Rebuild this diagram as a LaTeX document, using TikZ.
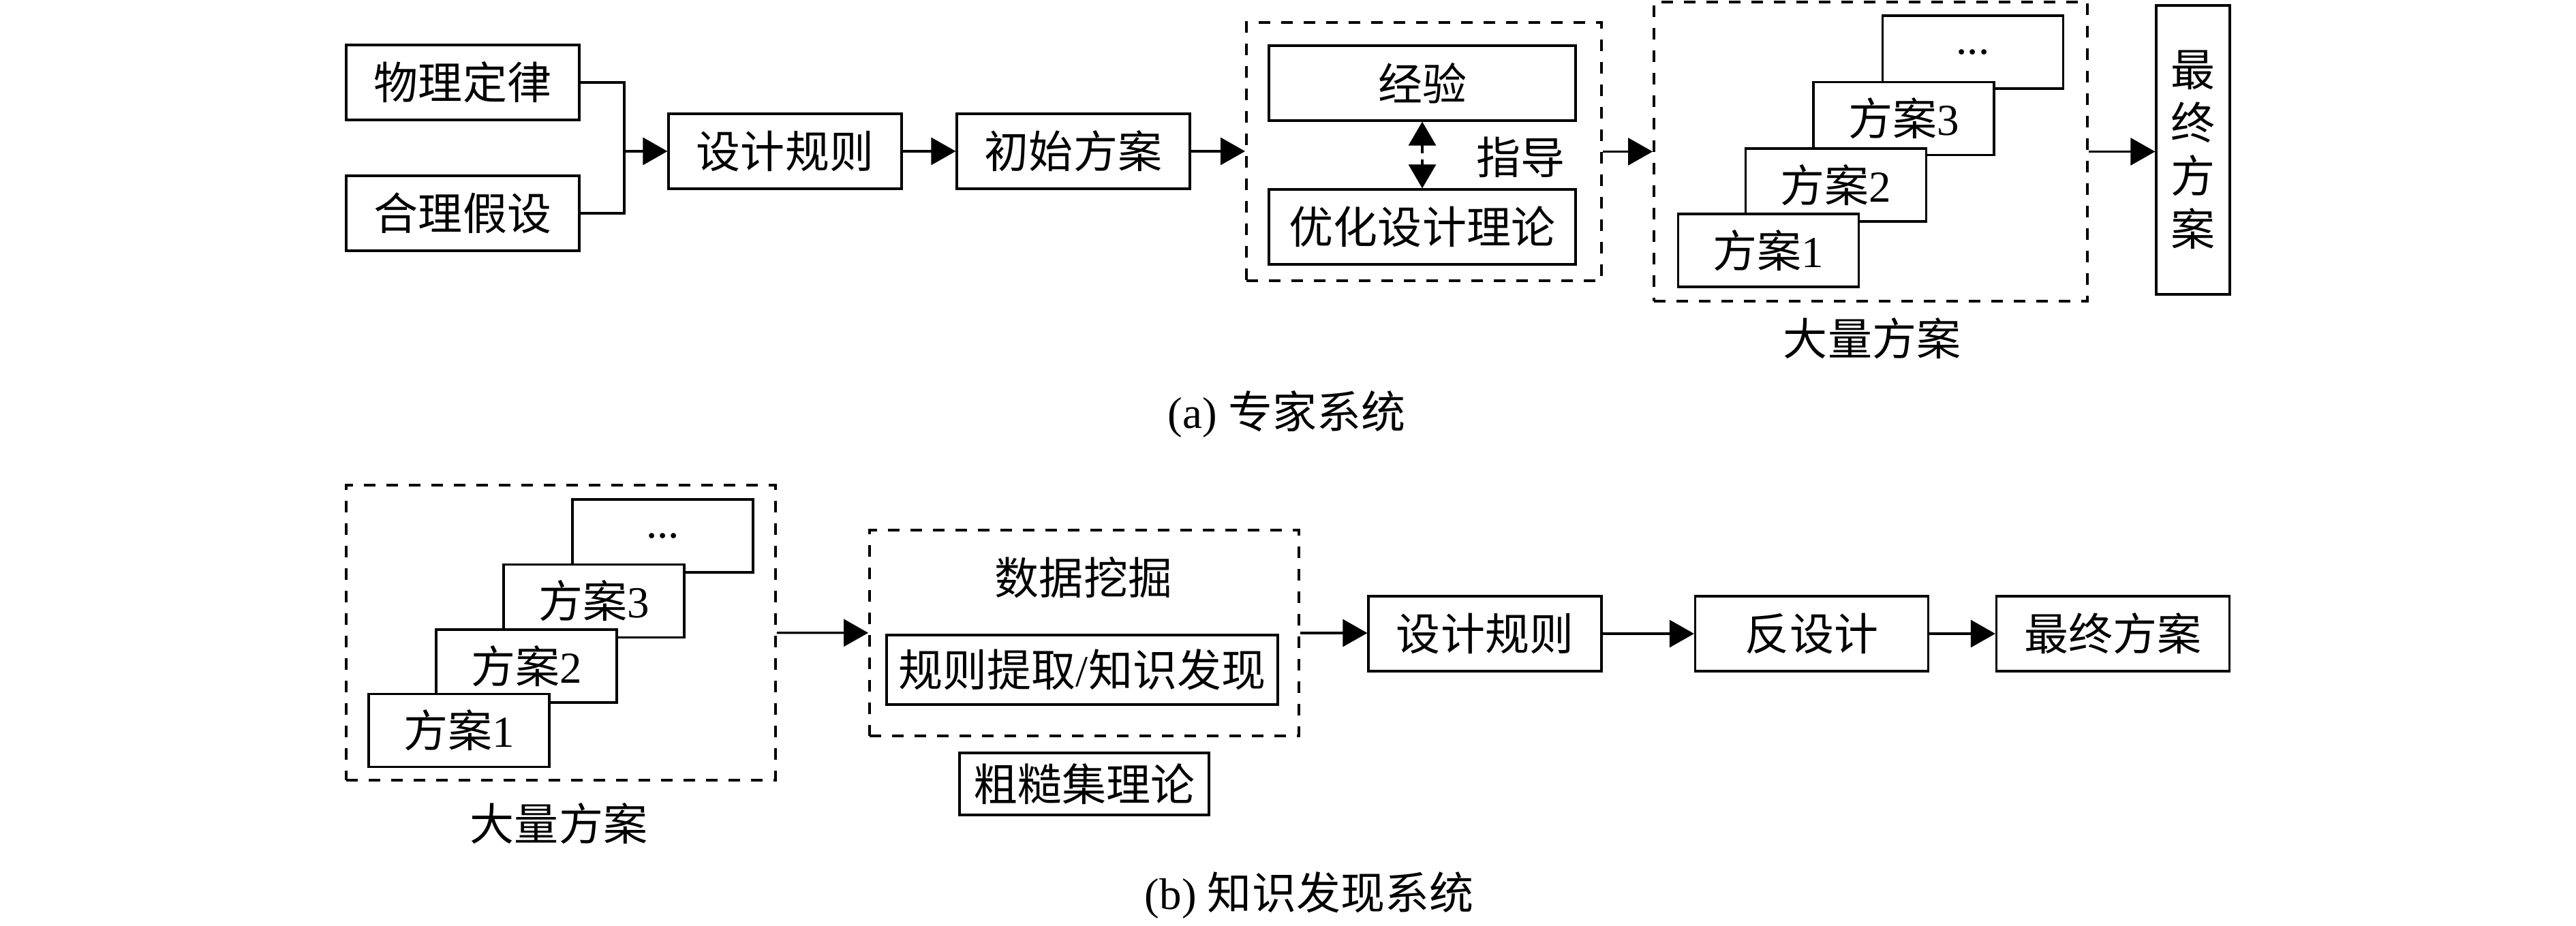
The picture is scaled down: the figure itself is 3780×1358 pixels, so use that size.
\documentclass[tikz,border=0pt]{standalone}
\usepackage{fontspec}
\setmainfont{Liberation Serif}
\newfontfamily\cjk{Noto Sans CJK SC}
\newcommand\cjt[1]{{\cjk #1}}
\usetikzlibrary{arrows.meta}
\begin{document}
\begin{tikzpicture}[x=0.1mm,y=-0.1mm,
  every node/.style={font=\fontsize{18.5pt}{22pt}\selectfont, inner sep=0pt},
  box/.style={draw, line width=0.9pt, fill=white, minimum width=34.2mm, minimum height=11mm},
  fa/.style={draw, line width=0.9pt, fill=white, minimum width=26.5mm, minimum height=10.7mm},
  dbox/.style={draw, line width=1.1pt, dash pattern=on 1.7mm off 1.6mm},
  arr/.style={line width=0.9pt, -{Triangle[length=3.6mm,width=4mm]}},
  darr/.style={line width=0.9pt, dash pattern=on 1.2mm off 0.9mm, {Triangle[length=3.5mm,width=4mm]}-{Triangle[length=3.5mm,width=4mm]}},
]
\useasboundingbox (0,0) rectangle (3780,1358);
% ---------- (a) ----------
\node[box] (wl) at (679,121) {\cjt{物理定律}};
\node[box] (hl) at (679,313) {\cjt{合理假设}};
\coordinate (jn) at (916,222);
\node[box] (rule1) at (1152,222) {\cjt{设计规则}};
\node[box] (init) at (1575,222) {\cjt{初始方案}};
\node[dbox, minimum width=52.1mm, minimum height=37.9mm] (db1) at (2089.5,222.5) {};
\node[box, minimum width=45mm] (jy) at (2087,122) {\cjt{经验}};
\node[box, minimum width=45mm] (yh) at (2087,333) {\cjt{优化设计理论}};
\node (zd) at (2231,231) {\cjt{指导}};
\node[dbox, minimum width=63.6mm, minimum height=43.9mm] (db2) at (2745,222.5) {};
\node[fa] (a4) at (2895,76.5) {...};
\node[fa] (a3) at (2793.5,174) {\cjt{方案}3};
\node[fa] (a2) at (2694,271.5) {\cjt{方案}2};
\node[fa] (a1) at (2595,367.5) {\cjt{方案}1};
\node (la) at (2747,497) {\cjt{大量方案}};
\node[draw, line width=0.9pt, minimum width=10.8mm, minimum height=42.4mm, align=center,
      font=\fontsize{18.5pt}{7.8mm}\selectfont\cjk] (fin1) at (3218,220) {最\\终\\方\\案};
\node (capa) at (1888,608) {(a) \cjt{专家系统}};
\draw[line width=0.9pt] (wl.east) -| (jn);
\draw[line width=0.9pt] (hl.east) -| (jn);
\draw[arr] (jn) -- (rule1.west);
\draw[arr] (rule1) -- (init);
\draw[arr] (init.east) -- (db1.west |- init.east);
\draw[darr] (jy) -- (yh);
\draw[arr] (db1) -- (db2);
\draw[arr] (db2.east) -- (fin1.west |- db2.east);
% ---------- (b) ----------
\node[dbox, minimum width=63mm, minimum height=43.3mm] (db3) at (823,928.5) {};
\node[fa] (b4) at (972.5,786.5) {...};
\node[fa] (b3) at (871.5,882) {\cjt{方案}3};
\node[fa] (b2) at (772.5,977.5) {\cjt{方案}2};
\node[fa] (b1) at (673.5,1072) {\cjt{方案}1};
\node (lb) at (820,1209) {\cjt{大量方案}};
\node[dbox, minimum width=63mm, minimum height=30.2mm] (db4) at (1591,929) {};
\node (sj) at (1590,848) {\cjt{数据挖掘}};
\node[box, minimum width=57.4mm, minimum height=10.2mm] (gz) at (1588,983) {\cjt{规则提取}/\cjt{知识发现}};
\node[box, minimum width=36.6mm, minimum height=9.1mm] (cc) at (1591,1150.5) {\cjt{粗糙集理论}};
\node[box] (rule2) at (2179,930) {\cjt{设计规则}};
\node[box] (fsj) at (2658.5,930) {\cjt{反设计}};
\node[box] (zz) at (3100.5,930) {\cjt{最终方案}};
\node (capb) at (1921,1314) {(b) \cjt{知识发现系统}};
\draw[arr] (db3) -- (db4);
\draw[arr] (db4.east) -- (rule2.west |- db4.east);
\draw[arr] (rule2) -- (fsj);
\draw[arr] (fsj) -- (zz);
\end{tikzpicture}
\end{document}
